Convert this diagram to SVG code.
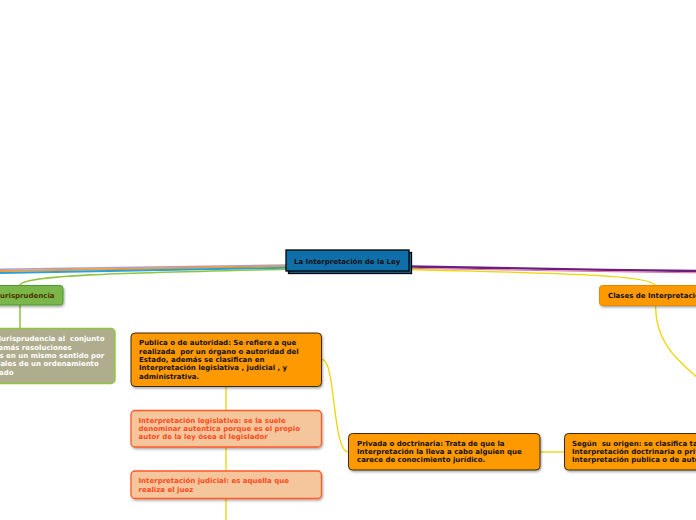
<svg xmlns="http://www.w3.org/2000/svg" width="696" height="520" viewBox="0 0 696 520" xml:space="preserve">
<defs>
<filter id="sh" x="-10%" y="-20%" width="130%" height="160%">
<feDropShadow dx="1" dy="1.5" stdDeviation="0.8" flood-color="#000" flood-opacity="0.35"/>
</filter>
</defs>
<style>
.t{font-family:"DejaVu Sans",Verdana,sans-serif;font-weight:bold;font-size:7px;fill:#111;white-space:pre}
.w{fill:#ffffff}
.r{fill:#ff4a1a}
.j{fill:#4d3300}
.y{fill:none;stroke:#efd400;stroke-width:1.3}
.org{fill:#ff9900;stroke:#3a2a10;stroke-width:1}
.pch{fill:#f5c69c;stroke:#ff5a26;stroke-width:1.3}
</style>
<rect width="696" height="520" fill="#ffffff"/>
<g id="connectors">
<path d="M286,265 C200,266 100,268.5 0,269.3" fill="none" stroke="#a99de0" stroke-width="1.5"/>
<path d="M286,266.3 C200,267.5 100,270 0,270.9" fill="none" stroke="#f39c2a" stroke-width="2"/>
<path d="M286,267.8 C200,269.3 100,272 0,273" fill="none" stroke="#2aa0dc" stroke-width="2"/>
<path d="M286,269.3 C120,273 24,275 20,285" fill="none" stroke="#8dc63f" stroke-width="1.6"/>
<path d="M20,305 L20,328.5" fill="none" stroke="#8dc63f" stroke-width="1.5"/>
<path d="M409,266.5 C500,268 600,270 696,271" fill="none" stroke="#6b1f7c" stroke-width="2.4"/>
<path d="M409,268.3 C500,269.8 600,271.8 696,272.8" fill="none" stroke="#e36fa5" stroke-width="1"/>
<path class="y" d="M410,269.5 C540,273 650,274 655.5,285.5"/>
<path class="y" d="M655.5,305 C655.5,345 680,362 700,380"/>
<path class="y" d="M322,359.5 C336,359.5 332,452 348.5,452"/>
<path class="y" d="M540,452 L564.5,452"/>
<path class="y" d="M226,386.5 L226,410.5"/>
<path class="y" d="M226,447 L226,471"/>
<path class="y" d="M226,498.5 L226,520"/>
</g>
<g id="central">
<rect x="288.5" y="252.5" width="123" height="21" fill="#0f6fa8" stroke="#000" stroke-width="1.3"/>
<rect x="286" y="250" width="123" height="21" fill="#0f6fa8" stroke="#000" stroke-width="1.3"/>
<text class="t" x="294" y="263.5">La Interpretación de la Ley</text>
</g>
<g id="jurisprudencia">
<rect x="-10" y="285.5" width="73" height="19.5" rx="3" fill="#7ab648" stroke="#4f9a32" stroke-width="1" filter="url(#sh)"/>
<text class="t j" x="-2.5" y="298">Jurisprudencia</text>
</g>
<g id="jurisprudencia-def">
<rect x="-10" y="328.5" width="125" height="55" rx="4" fill="#b0ac8e" stroke="#8dc63f" stroke-width="1.5"/>
<text class="t w" x="-1.5" y="341">Jurisprudencia al  conjunto</text>
<text class="t w" x="-1.5" y="349.5">emás resoluciones</text>
<text class="t w" x="-0.5" y="357.8">s en un mismo sentido por</text>
<text class="t w" x="-2" y="366.2">iales de un ordenamiento</text>
<text class="t w" x="-1" y="374.5">ado</text>
</g>
<g id="clases">
<rect x="599.5" y="285.5" width="110" height="20" rx="3" fill="#ff9900" stroke="#e58a00" stroke-width="1" filter="url(#sh)"/>
<text class="t" x="608" y="298">Clases de Interpretación</text>
</g>
<g id="publica">
<rect class="org" x="131" y="333" width="190.5" height="53.5" rx="4" filter="url(#sh)"/>
<text class="t" x="139" y="345">Publica o de autoridad: Se refiere a que</text>
<text class="t" x="139" y="353.6">realizada  por un órgano o autoridad del</text>
<text class="t" x="139" y="362">Estado, además se clasifican en</text>
<text class="t" x="139" y="370.4">Interpretación legislativa , judicial , y</text>
<text class="t" x="139" y="379">administrativa.</text>
</g>
<g id="legislativa">
<rect class="pch" x="131" y="410.5" width="190.5" height="36.5" rx="4" filter="url(#sh)"/>
<text class="t r" x="138.5" y="422.7">Interpretación legislativa: se la suele</text>
<text class="t r" x="138.5" y="431">denominar autentica porque es el propio</text>
<text class="t r" x="138.5" y="439.3">autor de la ley ósea el legislador</text>
</g>
<g id="judicial">
<rect class="pch" x="131" y="471" width="190.5" height="27.5" rx="4" filter="url(#sh)"/>
<text class="t r" x="138.5" y="483.3">Interpretación judicial: es aquella que</text>
<text class="t r" x="138.5" y="491.7">realiza el juez</text>
</g>
<g id="privada">
<rect class="org" x="348.5" y="433.5" width="191.5" height="36.5" rx="4" filter="url(#sh)"/>
<text class="t" x="357" y="445.7">Privada o doctrinaria: Trata de que la</text>
<text class="t" x="357" y="454">Interpretación la lleva a cabo alguien que</text>
<text class="t" x="357" y="462.3">carece de conocimiento jurídico.</text>
</g>
<g id="segun">
<rect class="org" x="564.5" y="433.5" width="150" height="36.5" rx="4" filter="url(#sh)"/>
<text class="t" x="572" y="445.7">Según  su origen: se clasifica ta</text>
<text class="t" x="572" y="454">Interpretación doctrinaria o priv</text>
<text class="t" x="572" y="462.3">Interpretación publica o de auto</text>
</g>
</svg>
